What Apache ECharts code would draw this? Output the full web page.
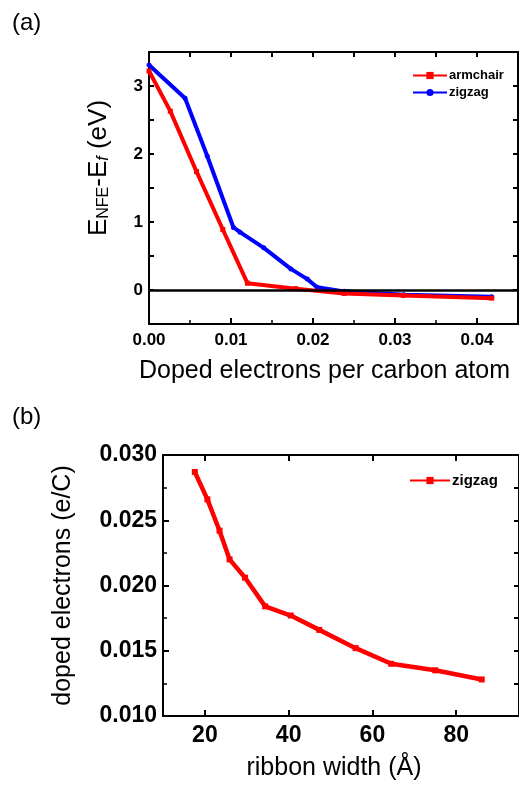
<!DOCTYPE html>
<html>
<head>
<meta charset="utf-8">
<script src="https://cdn.jsdelivr.net/npm/echarts@6/dist/echarts.min.js"></script>
<style>
  html, body { margin: 0; padding: 0; background: #fff; }
  #main { width: 519px; height: 789px; }
</style>
</head>
<body>
<div id="main"></div>
<script>
// panel (a): NFE state energy vs doping
const armchairX = [0, 0.0026, 0.0058, 0.0090, 0.0120, 0.0179, 0.0238, 0.0310, 0.0418]
const armchairY = [3.22, 2.63, 1.74, 0.89, 0.10, 0.02, -0.05, -0.08, -0.12]
const zigzagX = [0, 0.0044, 0.0071, 0.0103, 0.0111, 0.0140, 0.0173, 0.0193, 0.0205, 0.0238, 0.0311, 0.0418]
const zigzagY = [3.31, 2.82, 1.97, 0.92, 0.85, 0.62, 0.31, 0.16, 0.04, -0.02, -0.07, -0.10]

// panel (b): doped electrons vs ribbon width
const widthX = [17.6, 20.6, 23.5, 25.9, 29.6, 34.4, 40.5, 47.3, 56.0, 64.5, 75.0, 86.1]
const dopedY = [0.0287, 0.0266, 0.0242, 0.0220, 0.0206, 0.0184, 0.0177, 0.0166, 0.0152, 0.0140, 0.0135, 0.0128]
const widthTicks = [20, 40, 60, 80]

const FONT = 'Liberation Sans, Arial, sans-serif'
const zip = (xs, ys) => xs.map((x, i) => [x, ys[i]])

const line = { onZero: false, lineStyle: { color: '#000', width: 2 } }
const tickIn = (len) => ({ show: true, inside: true, length: len, lineStyle: { color: '#000', width: 2 } })
const minorIn = (len) => ({ show: true, splitNumber: 2, length: len, lineStyle: { color: '#000', width: 1.5 } })
const boldLabel = (size) => ({ color: '#000', fontFamily: FONT, fontWeight: 'bold', fontSize: size })
const nameStyle = { color: '#000', fontFamily: FONT, fontSize: 25 }

const chart = echarts.init(document.getElementById('main'), null, { renderer: 'canvas' })

chart.setOption({
  animation: false,
  backgroundColor: '#fff',
  graphic: [
    { type: 'text', left: 12, top: 11, style: { text: '(a)', font: '24px ' + FONT, fill: '#000' } },
    { type: 'text', left: 12, top: 405, style: { text: '(b)', font: '24px ' + FONT, fill: '#000' } }
  ],
  grid: [
    { left: 149, top: 52, width: 369, height: 272 },
    { left: 163, top: 455, width: 358, height: 261 }
  ],
  legend: [
    {
      data: ['armchair', 'zigzag'],
      orient: 'vertical', left: 407, top: 64, itemGap: 4,
      itemWidth: 34, itemHeight: 9,
      textStyle: { ...boldLabel(13), padding: [0, 0, 0, -3] }
    },
    {
      data: ['zigzag (b)'],
      formatter: () => 'zigzag',
      left: 404, top: 468,
      itemWidth: 40, itemHeight: 9,
      textStyle: { ...boldLabel(15), padding: [0, 0, 0, -3] }
    }
  ],
  xAxis: [
    {
      gridIndex: 0, type: 'value', min: 0, max: 0.045, interval: 0.01,
      axisLine: line, axisTick: tickIn(6), minorTick: minorIn(4), splitLine: { show: false },
      axisLabel: { ...boldLabel(17), margin: 8, showMaxLabel: false, formatter: (v) => v.toFixed(2) },
      name: 'Doped electrons per carbon atom', nameLocation: 'middle', nameGap: 35,
      nameTextStyle: { ...nameStyle, padding: [0, 18, 0, 0] }
    },
    {
      gridIndex: 0, type: 'value', position: 'top', min: 0, max: 0.045, interval: 0.01,
      axisLine: line, axisTick: tickIn(5), minorTick: { ...minorIn(5), lineStyle: { color: '#000', width: 2 } },
      splitLine: { show: false }, axisLabel: { show: false }
    },
    {
      gridIndex: 1, type: 'value', min: 10, max: 95,
      axisLine: line, axisTick: { ...tickIn(6), customValues: widthTicks }, splitLine: { show: false },
      axisLabel: { ...boldLabel(23), margin: 8, customValues: widthTicks },
      name: 'ribbon width (Å)', nameLocation: 'middle', nameGap: 40,
      nameTextStyle: { ...nameStyle, padding: [0, 14, 0, 0] }
    },
    {
      gridIndex: 1, type: 'value', position: 'top', min: 10, max: 95,
      axisLine: line, axisTick: { ...tickIn(6), customValues: widthTicks }, splitLine: { show: false },
      axisLabel: { show: false }
    }
  ],
  yAxis: [
    {
      gridIndex: 0, type: 'value', min: -0.5, max: 3.5, interval: 0.5,
      axisLine: line, axisTick: tickIn(5), splitLine: { show: false },
      axisLabel: { ...boldLabel(17), margin: 6, formatter: (v) => (Number.isInteger(v) ? String(v) : '') },
      name: '{m|E}{s|NFE}{m|-E}{f|f}{m| (eV)}', nameLocation: 'middle', nameGap: 37,
      nameTextStyle: {
        padding: [0, 0, 0, 40],
        rich: {
          m: { fontFamily: FONT, fontSize: 26, color: '#000', verticalAlign: 'bottom', lineHeight: 30 },
          s: { fontFamily: FONT, fontSize: 16, color: '#000', verticalAlign: 'bottom', lineHeight: 30 },
          f: { fontFamily: FONT, fontSize: 16, fontStyle: 'italic', color: '#000', verticalAlign: 'bottom', lineHeight: 30 }
        }
      }
    },
    {
      gridIndex: 0, type: 'value', position: 'right', min: -0.5, max: 3.5, interval: 0.5,
      axisLine: line, axisTick: tickIn(5), splitLine: { show: false },
      axisLabel: { show: false }
    },
    {
      gridIndex: 1, type: 'value', min: 0.010, max: 0.030, interval: 0.005,
      axisLine: line, axisTick: tickIn(6), minorTick: minorIn(4), splitLine: { show: false },
      axisLabel: { ...boldLabel(23), margin: 6, formatter: (v) => v.toFixed(3) },
      name: 'doped electrons (e/C)', nameLocation: 'middle', nameGap: 87, nameTextStyle: nameStyle
    },
    {
      gridIndex: 1, type: 'value', position: 'right', min: 0.010, max: 0.030, interval: 0.005,
      axisLine: line, axisTick: tickIn(5), minorTick: { ...minorIn(5), lineStyle: { color: '#000', width: 2 } },
      splitLine: { show: false }, axisLabel: { show: false }
    }
  ],
  series: [
    {
      name: 'armchair', type: 'line', xAxisIndex: 0, yAxisIndex: 0,
      data: zip(armchairX, armchairY),
      symbol: 'rect', symbolSize: 5, color: '#ff0000',
      lineStyle: { width: 4, color: '#ff0000' }, z: 3,
      markLine: {
        silent: true, symbol: ['none', 'none'], label: { show: false },
        lineStyle: { color: '#000', width: 2.5, type: 'solid' },
        data: [{ yAxis: 0 }]
      }
    },
    {
      name: 'zigzag', type: 'line', xAxisIndex: 0, yAxisIndex: 0,
      data: zip(zigzagX, zigzagY),
      symbol: 'circle', symbolSize: 5, color: '#0000ff',
      lineStyle: { width: 4, color: '#0000ff' }, z: 2
    },
    {
      name: 'zigzag (b)', type: 'line', xAxisIndex: 2, yAxisIndex: 2,
      data: zip(widthX, dopedY),
      symbol: 'rect', symbolSize: 6, color: '#ff0000',
      lineStyle: { width: 4.5, color: '#ff0000' }
    }
  ]
})
</script>
</body>
</html>
